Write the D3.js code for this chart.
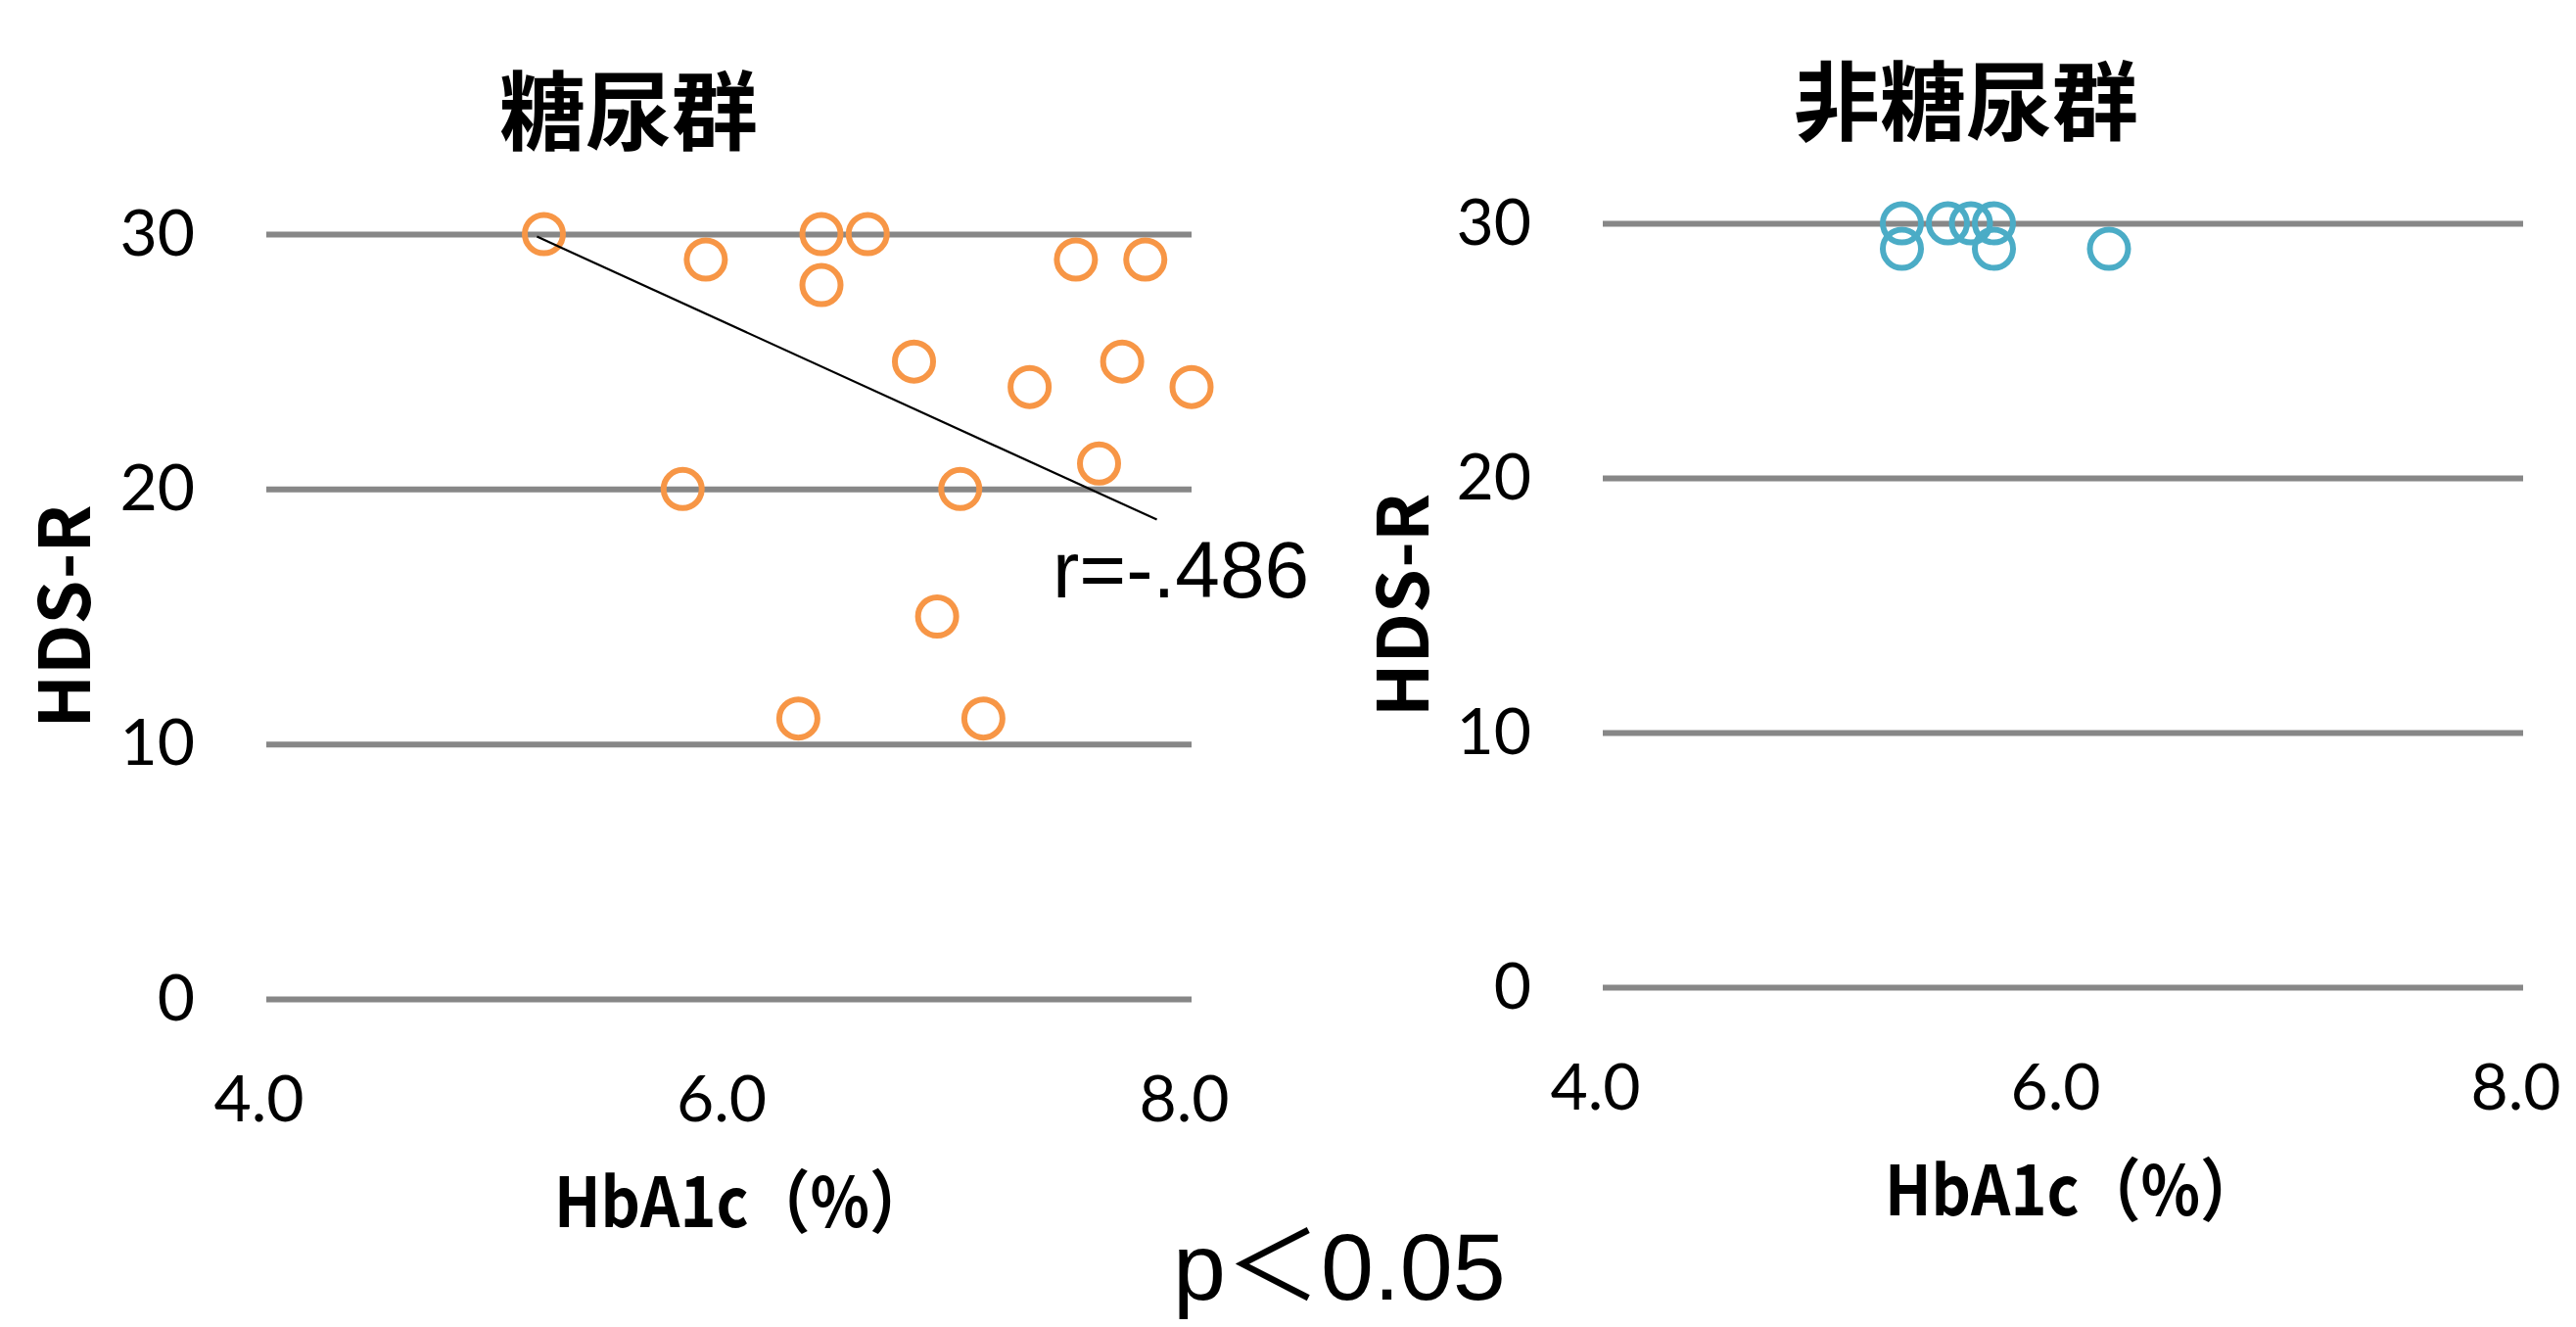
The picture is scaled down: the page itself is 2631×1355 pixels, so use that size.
<!DOCTYPE html>
<html lang="ja">
<head>
<meta charset="utf-8">
<title>HbA1c と HDS-R</title>
<script src="https://cdn.jsdelivr.net/npm/d3@7/dist/d3.min.js"></script>
<style>
  body { margin: 0; background: #fff; }
  svg { display: block; }
</style>
</head>
<body>
<div id="chart"></div>
<script>
// values
const dmHbA1c = [5.2, 5.9, 6.4, 6.6, 6.4, 6.8, 7.3, 7.5, 7.8, 7.7, 8.0, 7.6, 5.8, 7.0, 6.9, 6.3, 7.1];
const dmHDSR  = [30,  29,  30,  30,  28,  25,  24,  29,  29,  25,  24,  21,  20,  20,  15,  11,  11];
const nonDmHbA1c = [5.3, 5.3, 5.5, 5.6, 5.7, 5.7, 6.2];
const nonDmHDSR  = [30,  29,  30,  30,  30,  29,  29];
// hand drawn trend line (ends)
const trendHbA1c = [5.17, 7.85];
const trendHDSR  = [29.9, 18.8];
const xTicks = [4, 6, 8];
const yTicks = [0, 10, 20, 30];
const titles = ["糖尿群", "非糖尿群"];
const xTitle = "HbA1c（%）";
const yTitle = "HDS-R";
const rLabel = "r=-.486";
const pLabel = "p＜0.05";

const W = 2631, H = 1355;
const svg = d3.select("#chart").append("svg")
    .attr("width", W)
    .attr("height", H);

const cjk = "'Noto Sans CJK JP', 'Noto Sans', sans-serif";
const num = "Lato, 'Open Sans', sans-serif";

// layout of the two panels
const panels = [
  { xs: dmHbA1c, ys: dmHDSR, color: "#F79646", title: titles[0],
    x0: 272, x1: 1217, yTop: 239, yBot: 1020, titleX: 642, titleY: 107, yTitleX: 92, xTitleX: 566 },
  { xs: nonDmHbA1c, ys: nonDmHDSR, color: "#4BACC6", title: titles[1],
    x0: 1637, x1: 2577, yTop: 228, yBot: 1008, titleX: 2008, titleY: 97, yTitleX: 1459, xTitleX: 1925 }
];

panels.forEach((p, i) => {
  const x = d3.scaleLinear().domain([4, 8]).range([p.x0, p.x1]);
  const y = d3.scaleLinear().domain([0, 30]).range([p.yBot, p.yTop]);
  const g = svg.append("g");

  // gridlines + y labels
  const yAxis = g.append("g")
      .attr("transform", `translate(${p.x0},0)`)
      .call(d3.axisLeft(y).tickValues(yTicks).tickSize(-(p.x1 - p.x0)).tickPadding(73));
  yAxis.select(".domain").remove();
  yAxis.selectAll(".tick line").attr("stroke", "#878787").attr("stroke-width", 6);
  yAxis.selectAll(".tick text")
      .attr("font-family", num).attr("font-size", 66).attr("fill", "#000");

  // x labels
  const xAxis = g.append("g")
      .attr("transform", `translate(0,${p.yBot})`)
      .call(d3.axisBottom(x).tickValues(xTicks).tickSize(0).tickFormat(d3.format(".1f")));
  xAxis.select(".domain").remove();
  xAxis.selectAll(".tick text")
      .attr("y", 125).attr("dy", null).attr("dx", -8)
      .attr("font-family", num).attr("font-size", 66).attr("fill", "#000");

  // points
  g.append("g").selectAll("circle")
    .data(p.xs.map((v, k) => [v, p.ys[k]]))
    .join("circle")
      .attr("cx", d => x(d[0]))
      .attr("cy", d => y(d[1]))
      .attr("r", 19.5)
      .attr("fill", "none")
      .attr("stroke", p.color)
      .attr("stroke-width", 6);

  // titles
  g.append("text")
      .attr("x", p.titleX).attr("y", p.titleY)
      .attr("text-anchor", "middle").attr("dominant-baseline", "central")
      .attr("font-family", cjk).attr("font-weight", 700).attr("font-size", 88)
      .text(p.title);

  g.append("text")
      .attr("x", p.xTitleX).attr("y", p.yBot + 233)
      .attr("font-family", cjk).attr("font-weight", 700).attr("font-size", 70)
      .attr("textLength", 385).attr("lengthAdjust", "spacingAndGlyphs")
      .text(xTitle);

  g.append("text")
      .attr("transform", `translate(${p.yTitleX},${(p.yTop + p.yBot) / 2}) rotate(-90)`)
      .attr("text-anchor", "middle")
      .attr("font-family", cjk).attr("font-weight", 700).attr("font-size", 72)
      .text(yTitle);

  if (i === 0) {
    svg.append("line")
      .attr("x1", x(trendHbA1c[0])).attr("y1", y(trendHDSR[0]))
      .attr("x2", x(trendHbA1c[1])).attr("y2", y(trendHDSR[1]))
      .attr("stroke", "#000").attr("stroke-width", 2.2);
  }
});

svg.append("text")
    .attr("x", 1075).attr("y", 610)
    .attr("font-family", "'Liberation Sans', Arial, sans-serif").attr("font-size", 82)
    .text(rLabel);

svg.append("text")
    .attr("x", 1198).attr("y", 1327)
    .attr("font-family", "'Liberation Sans', Arial, 'Noto Sans CJK JP', sans-serif").attr("font-size", 97)
    .text(pLabel);
</script>
</body>
</html>
